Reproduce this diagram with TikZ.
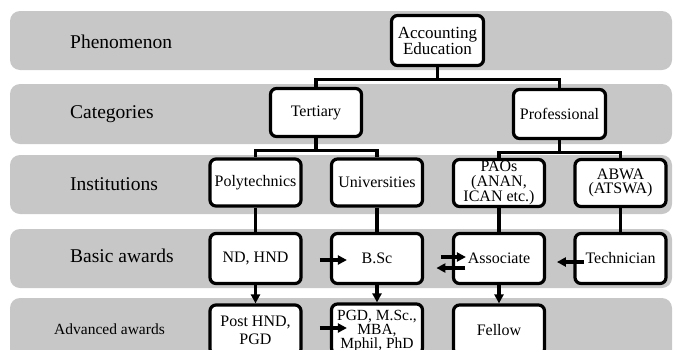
\documentclass[tikz,border=0pt]{standalone}
\usepackage{fontspec}
\setmainfont{Liberation Serif}
\usetikzlibrary{arrows.meta,calc}
\definecolor{bandgray}{RGB}{199,199,199}
\begin{document}
\begin{tikzpicture}[x=1pt,y=-1pt,
  band/.style={fill=bandgray, rounded corners=10pt},
  box/.style={draw, line width=3.2pt, rounded corners=6pt, fill=white, align=center,
    inner sep=0pt, font=\fontsize{16}{14}\selectfont},
  instbox/.style={box, minimum width=91pt, minimum height=47pt},
  basicbox/.style={box, minimum width=91pt, minimum height=50pt},
  advbox/.style={box, minimum width=91pt, minimum height=50pt},
  rowlabel/.style={anchor=base west, inner sep=0pt, font=\fontsize{19.5}{22}\selectfont},
  link/.style={line width=3.2pt},
  arr/.style={line width=3.2pt, -{Triangle[length=9pt,width=9pt]}}]
\useasboundingbox (0,0) rectangle (673,349);
\clip (0,0) rectangle (673,349);
% bands
\fill[band] (10,11) rectangle (672,70);
\fill[band] (10,84) rectangle (672,144);
\fill[band] (10,155) rectangle (672,214);
\fill[band] (10,229) rectangle (672,288);
\fill[band] (10,298) rectangle (672,380);
% row labels
\node[rowlabel] (lphen) at (70,48) {Phenomenon};
\node[rowlabel] (lcat) at (70,118) {Categories};
\node[rowlabel] (linst) at (70,190) {Institutions};
\node[rowlabel] (lbasic) at (70,262.5) {Basic awards};
\node[rowlabel, font=\fontsize{15.5}{18}\selectfont] (ladv) at (54,334) {Advanced awards};
% boxes
\node[box, minimum width=92pt, minimum height=50pt, font=\fontsize{17}{16}\selectfont] (acc) at (437.5,40.5) {Accounting\\Education};
\node[box, minimum width=91pt, minimum height=48pt] (ter) at (316,112.5) {Tertiary};
\node[box, minimum width=92pt, minimum height=49pt] (pro) at (559.5,114) {Professional};
\node[instbox] (poly) at (255.5,182.5) {Polytechnics};
\node[instbox] (univ) at (377,182.5) {Universities};
\node[instbox, font=\fontsize{16}{14.5}\selectfont] (pao) at (499,183) {PAOs\\(ANAN,\\ICAN etc.)};
\node[instbox, font=\fontsize{16}{14.5}\selectfont] (abwa) at (620.5,183) {ABWA\\(ATSWA)};
\node[basicbox] (nd) at (255.5,258.5) {ND, HND};
\node[basicbox] (bsc) at (377,258.5) {B.Sc};
\node[basicbox] (assoc) at (499,258.5) {Associate};
\node[basicbox] (tech) at (620.5,258.5) {Technician};
\node[advbox, font=\fontsize{16}{18}\selectfont] (phnd) at (255.5,330) {Post HND,\\PGD};
\node[advbox, font=\fontsize{15.5}{14}\selectfont, text depth=0pt] (pgd) at (377,329) {PGD, M.Sc.,\\MBA,\\Mphil, PhD};
\node[advbox] (fel) at (499,330) {Fellow};
% tree connectors
\draw[link] (acc.south) -- ++(0,12) coordinate (accj) -| (ter.north);
\draw[link] (accj) -| (pro.north);
\draw[link] (ter.south) -- ++(0,12) coordinate (terj) -| (poly.north);
\draw[link] (terj) -| (univ.north);
\draw[link] (pro.south) -- ++(0,12) coordinate (proj) -| (pao.north);
\draw[link] (proj) -| (abwa.north);
% institutions to basic awards
\draw[link] (poly) -- (nd);
\draw[link] (univ) -- (bsc);
\draw[link] (pao) -- (assoc);
\draw[link] (abwa) -- (tech);
% basic to advanced
\draw[arr] (nd.south) -- (phnd.north);
\draw[arr] (bsc.south) -- (pgd.north);
\draw[arr] (assoc.south) -- (fel.north);
% horizontal arrows
\draw[arr] ([xshift=-10pt,yshift=-1.5pt]bsc.west) -- ([xshift=17pt,yshift=-1.5pt]bsc.west);
\draw[arr] ([xshift=-11pt,yshift=1.5pt]assoc.west) -- ([xshift=14pt,yshift=1.5pt]assoc.west);
\draw[arr] ([xshift=13.5pt,yshift=-9.5pt]assoc.west) -- ([xshift=-15.5pt,yshift=-9.5pt]assoc.west);
\draw[arr] ([xshift=10.5pt,yshift=-3.5pt]tech.west) -- ([xshift=-16.5pt,yshift=-3.5pt]tech.west);
\draw[arr] ([xshift=-10pt,yshift=1pt]pgd.west) -- ([xshift=17pt,yshift=1pt]pgd.west);
\end{tikzpicture}
\end{document}
